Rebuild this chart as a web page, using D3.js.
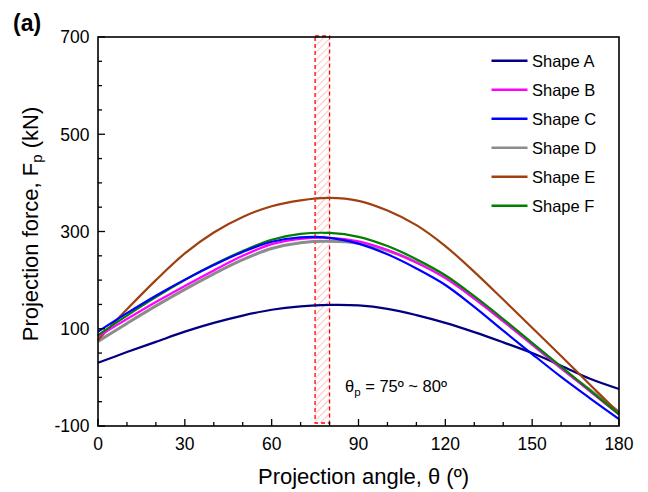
<!DOCTYPE html>
<html>
<head>
<meta charset="utf-8">
<script src="https://cdn.jsdelivr.net/npm/d3@7/dist/d3.min.js"></script>
<style>
  body { margin: 0; background: #fff; }
  svg { display: block; font-family: Arial, "Liberation Sans", sans-serif; }
</style>
</head>
<body>
<svg id="chart" width="648" height="492"></svg>
<script>
const angles = [0,10,20,30,40,50,60,70,80,90,100,110,120,130,140,150,160,170,180];
const shapeA = [30,52,73,94,112,127,139,146,149,148,141,128,112,93,72,50,24,-3,-24];
const shapeB = [84,120,155,188,220,250,274,285,287,280,262,236,204,162,116,68,19,-29,-76];
const shapeC = [94,132,168,201,231,258,279,288,287,275,253,224,190,145,96,48,1,-43,-86];
const shapeD = [74,111,147,181,213,242,265,277,280,276,261,237,206,163,116,68,19,-26,-71];
const shapeE = [77,140,200,255,298,330,352,364,369,363,343,313,270,217,160,102,44,-15,-74];
const shapeF = [87,127,165,200,232,260,283,295,297,289,270,243,210,167,120,71,22,-27,-76];
const seriesNames = ["Shape A","Shape B","Shape C","Shape D","Shape E","Shape F"];
const seriesColors = ["#000080","#FF00FF","#0000FF","#8C8C8C","#A0400F","#008000"];
const seriesValues = [shapeA, shapeB, shapeC, shapeD, shapeE, shapeF];
const xTicks = [0,30,60,90,120,150,180];
const yTicks = [-100,100,300,500,700];
const bandRange = [75, 80];

const svg = d3.select("#chart");
const L = 98, R = 619, T = 37, B = 426;
const x = d3.scaleLinear().domain([0,180]).range([L,R]);
const y = d3.scaleLinear().domain([-100,700]).range([B,T]);

// hatch pattern
const defs = svg.append("defs");
const pat = defs.append("pattern").attr("id","hatch").attr("patternUnits","userSpaceOnUse")
  .attr("width",5).attr("height",5).attr("patternTransform","rotate(45)");
pat.append("line").attr("x1",0).attr("y1",0).attr("x2",0).attr("y2",5)
  .attr("stroke","#FFC0C0").attr("stroke-width",1.8);

// band
svg.append("rect")
  .attr("x", x(bandRange[0])).attr("y", T - 1)
  .attr("width", x(bandRange[1]) - x(bandRange[0]))
  .attr("height", (B - 3) - (T - 1))
  .attr("fill","url(#hatch)")
  .attr("stroke","#FF0000").attr("stroke-width",1.3).attr("stroke-dasharray","4,3");

// lines
const line = d3.line().x((d,i)=>x(angles[i])).y(d=>y(d)).curve(d3.curveCatmullRom.alpha(0.5));
const order = [3,0,4,1,5,2];
order.forEach(k => {
  svg.append("path").datum(seriesValues[k])
    .attr("d", line).attr("fill","none")
    .attr("stroke", seriesColors[k])
    .attr("stroke-width", k===3 ? 3 : 2.2)
    .attr("stroke-linejoin","round");
});

// axes (scale-driven tick positions)
const xAxis = d3.axisBottom(x).tickValues(d3.range(0,181,10)).tickSize(0).tickFormat("");
const yAxis = d3.axisLeft(y).tickValues(d3.range(-100,701,50)).tickSize(0).tickFormat("");
svg.append("g").attr("transform",`translate(0,${B})`).call(xAxis).select(".domain").remove();
svg.append("g").attr("transform",`translate(${L},0)`).call(yAxis).select(".domain").remove();

// ticks inward
d3.range(0,181,10).forEach(v => {
  const len = v % 30 === 0 ? 7 : 4;
  svg.append("line").attr("x1",x(v)).attr("x2",x(v)).attr("y1",B).attr("y2",B-len)
    .attr("stroke","#000").attr("stroke-width",1.3);
});
d3.range(-100,701,50).forEach(v => {
  const len = (v + 100) % 200 === 0 ? 7 : 4;
  svg.append("line").attr("x1",L).attr("x2",L+len).attr("y1",y(v)).attr("y2",y(v))
    .attr("stroke","#000").attr("stroke-width",1.3);
});

// frame
svg.append("rect").attr("x",L).attr("y",T).attr("width",R-L).attr("height",B-T)
  .attr("fill","none").attr("stroke","#000").attr("stroke-width",1.6);

// tick labels
svg.append("g").selectAll("text").data(xTicks).join("text")
  .attr("x", d=>x(d)).attr("y", 450).attr("text-anchor","middle")
  .attr("font-size",17.5).attr("fill","#000").text(d=>d);
svg.append("g").selectAll("text").data(yTicks).join("text")
  .attr("x", 89.5).attr("y", d=>y(d)+6.3).attr("text-anchor","end")
  .attr("font-size",17.5).attr("fill","#000").text(d=>d);

// axis titles
svg.append("text").attr("x",363.5).attr("y",484).attr("text-anchor","middle")
  .attr("font-size",22).attr("fill","#000").text("Projection angle, θ (º)");
const yt = svg.append("text").attr("transform","translate(38,224) rotate(-90)")
  .attr("text-anchor","middle").attr("font-size",22).attr("fill","#000");
yt.append("tspan").text("Projection force, F");
yt.append("tspan").attr("font-size",15).attr("dy",4).text("p");
yt.append("tspan").attr("dy",-4).text(" (kN)");

// panel label
svg.append("text").attr("x",13).attr("y",31).attr("font-size",23).attr("font-weight","bold")
  .attr("fill","#000").text("(a)");

// annotation
const ann = svg.append("text").attr("x",345).attr("y",391.5).attr("font-size",16.5).attr("fill","#000");
ann.append("tspan").text("θ");
ann.append("tspan").attr("font-size",11.5).attr("dy",4).text("p");
ann.append("tspan").attr("dy",-4).text(" = 75º ~ 80º");

// legend
const lg = svg.append("g");
seriesNames.forEach((n,i) => {
  const yy = 60.7 + i*29;
  lg.append("line").attr("x1",491.5).attr("x2",527.5).attr("y1",yy).attr("y2",yy)
    .attr("stroke",seriesColors[i]).attr("stroke-width",2.6);
  lg.append("text").attr("x",532).attr("y",yy+6).attr("font-size",16.5).attr("fill","#000").text(n);
});
</script>
</body>
</html>
